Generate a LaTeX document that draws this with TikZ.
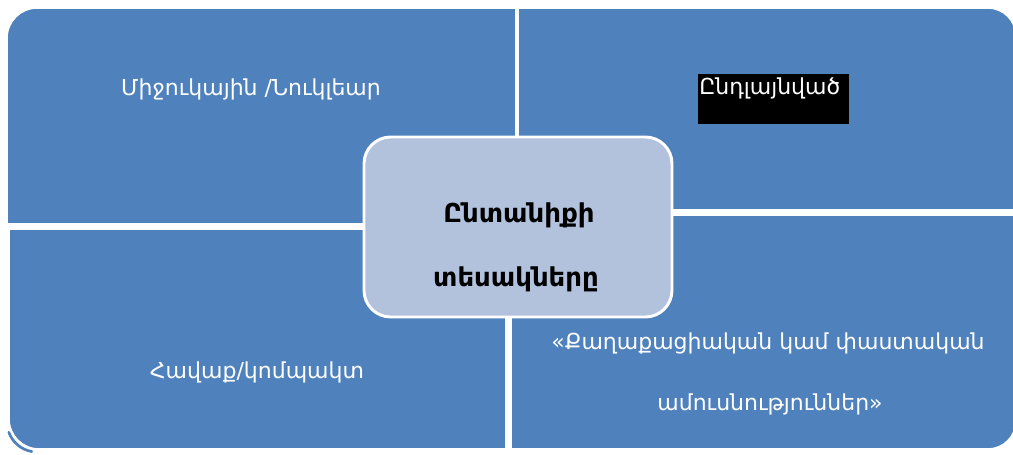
\documentclass[tikz,border=0pt]{standalone}
\usepackage{fontspec}
\setmainfont{DejaVu Sans}
\begin{document}
\begin{tikzpicture}[x=0.75pt,y=-0.75pt]
\definecolor{qblue}{HTML}{4F81BD}
\definecolor{cfill}{HTML}{B2C1DC}
\tikzset{
  quad/.style={fill=qblue, draw=white, line width=1.2pt},
  qtext/.style={text=white, font=\fontsize{16.5}{19}\selectfont, align=center},
  ctext/.style={text=black, font=\bfseries\fontsize{19.5}{23}\selectfont},
}
\useasboundingbox (0,0) rectangle (1013,454);
\fill[white] (0,0) rectangle (1013,454);
% faint shadow arc at bottom-left corner
\draw[qblue, line width=2pt, line cap=round] (37,422) ++(160:30) arc[start angle=160,end angle=100,radius=30];
% quadrants
\path[quad] (7,224) -- (7,38) arc[start angle=180,end angle=270,radius=30] -- (516,8) -- (516,224) -- cycle;
\path[quad] (518,210) -- (518,8) -- (988,8) arc[start angle=270,end angle=360,radius=28] -- (1016,210) -- cycle;
\path[quad] (9,229) -- (506,229) -- (506,449) -- (39,449) arc[start angle=90,end angle=180,radius=30] -- cycle;
\path[quad] (511,215) -- (1016,215) -- (1016,421) arc[start angle=0,end angle=90,radius=28] -- (511,449) -- cycle;
% center
\node[draw=white, line width=2.2pt, fill=cfill, rounded corners=20pt, minimum width=231pt, minimum height=135pt] (center) at (518,227) {};
\node[ctext] (c1) at (519,215) {Ընտանիքի};
\node[ctext] (c2) at (516,279) {տեսակները};
% labels
\node[qtext] (tl) at (251,89) {Միջուկային /Նուկլեար};
\node[fill=black, minimum width=113pt, minimum height=37.5pt, inner sep=0pt] (blk) at (773.5,99) {};
\node[qtext, anchor=west, inner sep=0pt] (tr) at (699,88) {Ընդլայնված};
\node[qtext] (bl) at (257,372) {Հավաք/կոմպակտ};
\node[qtext] (br1) at (768,343) {«Քաղաքացիական կամ փաստական};
\node[qtext] (br2) at (770,404) {ամուսնություններ»};
\end{tikzpicture}
\end{document}
